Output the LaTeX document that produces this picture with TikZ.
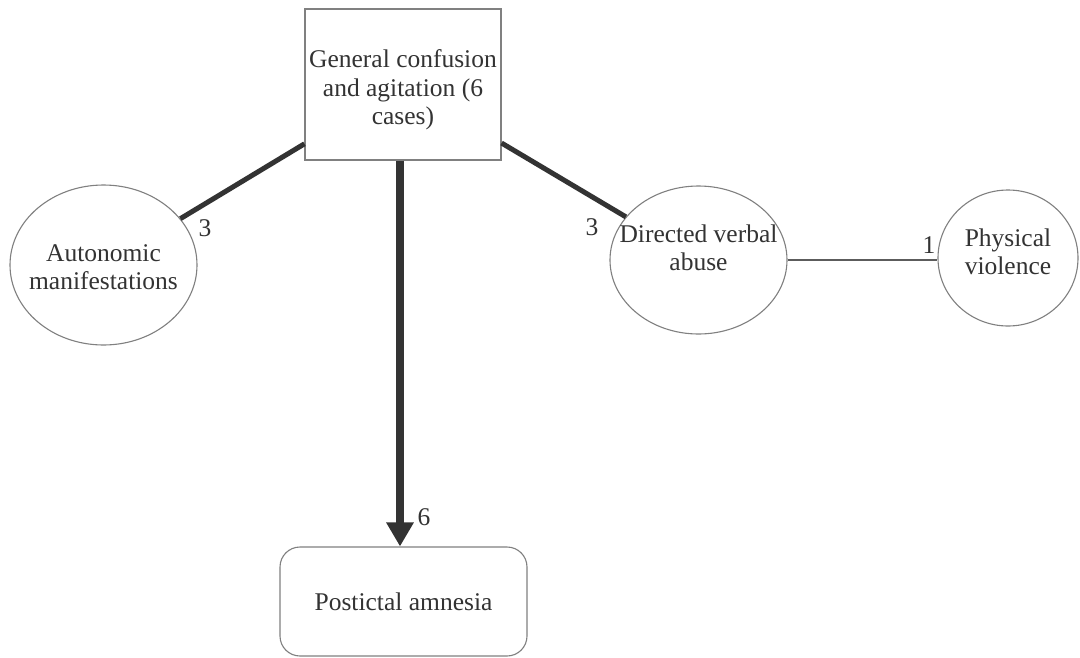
\documentclass[tikz,border=0pt]{standalone}
\usepackage{fontspec}
\setmainfont{Liberation Serif}
\usetikzlibrary{shapes.geometric,arrows.meta}
\definecolor{ink}{HTML}{333333}
\definecolor{rim}{HTML}{808080}
\begin{document}
\begin{tikzpicture}[x=1pt,y=-1pt,
  every node/.style={font=\fontsize{25.5}{28.5}\selectfont, text=ink},
  boxnode/.style={draw=rim, line width=1.1pt, rectangle, align=center, inner sep=2pt},
  oval/.style={draw=rim, line width=1.1pt, ellipse, inner sep=0pt},
  caption/.style={align=center, inner sep=0pt},
  heavy/.style={draw=ink, line width=5pt},
  heavier/.style={draw=ink, line width=8pt, -{Triangle[width=26pt,length=24pt]}},
  light/.style={draw=ink!80, line width=1.1pt},
  weight/.style={inner sep=0pt}
]
\useasboundingbox (0,0) rectangle (1080,657);
\fill[white] (0,0) rectangle (1080,657);

% boxes
\node[boxnode, minimum width=196pt, minimum height=151pt] (gen) at (403,84.5) {};
\node[caption] (gent) at (403,90) {General confusion\\and agitation (6\\cases)};
\node[boxnode, rounded corners=20pt, minimum width=247pt, minimum height=109pt] (post) at (403.5,601.5)
  {Postictal amnesia};

% ovals, fixed size, with their captions on top
\node[oval, minimum width=187pt, minimum height=160pt] (auto) at (103.5,265) {};
\node[caption] (autot) at (103.5,267) {Autonomic\\manifestations};
\node[oval, minimum width=177pt, minimum height=148pt] (dva) at (698.5,260) {};
\node[caption] (dvat) at (698.5,248) {Directed verbal\\abuse};
\node[oval, minimum width=140pt, minimum height=136pt] (phys) at (1008,258) {};
\node[caption] (physt) at (1008,252) {Physical\\violence};

% connectors
\draw[heavy] (gen) -- (auto);
\draw[heavy] (gen) -- (dva);
\draw[heavier] (gen.south -| 400,0) -- (post.north -| 400,0);
\draw[light] (dva.east) -- (dva.east -| phys.west);

% weights
\node[weight] (w1) at (205,228) {3};
\node[weight] (w2) at (592,227) {3};
\node[weight] (w3) at (929,245) {1};
\node[weight] (w4) at (424,517) {6};
\end{tikzpicture}
\end{document}
